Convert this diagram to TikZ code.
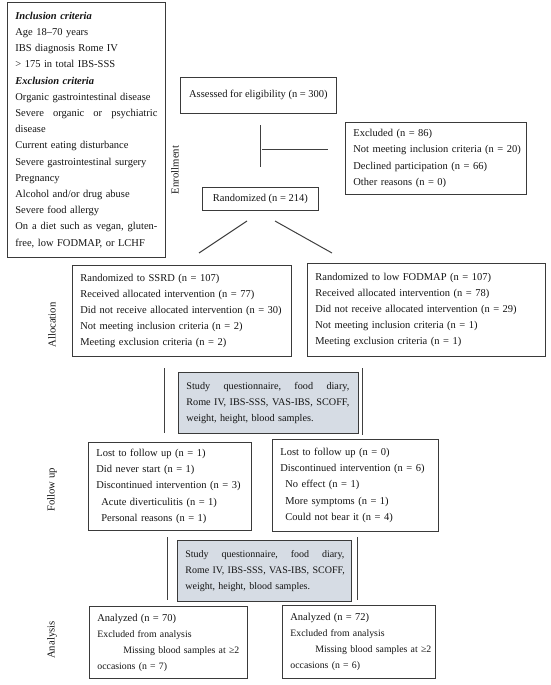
\documentclass[tikz,border=0pt]{standalone}
\usepackage{fontspec}
\setmainfont{Liberation Serif}
\definecolor{txt}{HTML}{141414}
\definecolor{boxc}{HTML}{3A3A3A}
\definecolor{linec}{HTML}{404040}
\definecolor{grayfill}{HTML}{D6DCE4}
\newcommand{\jline}[2]{\leavevmode\hbox to #1{#2}}
\newcommand{\oneline}[1]{\mbox{#1}}
\begin{document}
\begin{tikzpicture}[x=1pt,y=-1pt,
  box/.style={draw=boxc, line width=0.8pt, anchor=north west, inner xsep=8pt, inner ysep=0pt,
              align=left, font=\fontsize{10.5}{16.2}\selectfont, text=txt},
  cbox/.style={box, align=center},
  gbox/.style={box, fill=grayfill},
  abox/.style={box, font=\fontsize{9.8}{16}\selectfont},
  conn/.style={draw=linec, line width=1pt},
  side/.style={rotate=90, font=\fontsize{10.7}{13}\selectfont, text=txt}]
\useasboundingbox (0,0) rectangle (550,685);

% criteria
\node[box, minimum width=156pt, minimum height=255pt, text width=142pt] (crit) at (7,2) {%
\textbf{\textit{Inclusion criteria}}\\
Age 18–70 years\\
IBS diagnosis Rome IV\\
> 175 in total IBS-SSS\\
\textbf{\textit{Exclusion criteria}}\\
\oneline{Organic gastrointestinal disease}\\
\jline{142pt}{Severe \hfill organic \hfill or \hfill psychiatric}\\
disease\\
Current eating disturbance\\
\oneline{Severe gastrointestinal surgery}\\
Pregnancy\\
Alcohol and/or drug abuse\\
Severe food allergy\\
\jline{142pt}{On \hfill a \hfill diet \hfill such \hfill as \hfill vegan, \hfill gluten-}\\
free, low FODMAP, or LCHF};

% enrollment
\node[cbox, minimum width=156pt, minimum height=36pt] (assess) at (180,77) {Assessed for eligibility (n = 300)};
\node[box, minimum width=181pt, minimum height=72pt, text width=165pt] (excl) at (345,122) {%
Excluded (n = 86)\\
\oneline{Not meeting inclusion criteria (n = 20)}\\
Declined participation (n = 66)\\
Other reasons (n = 0)};
\node[cbox, minimum width=116pt, minimum height=23pt] (rand) at (202,187) {Randomized (n = 214)};

% allocation
\node[box, minimum width=219pt, minimum height=91pt, text width=203pt] (ssrd) at (72,265) {%
Randomized to SSRD (n = 107)\\
Received allocated intervention (n = 77)\\
\oneline{Did not receive allocated intervention (n = 30)}\\
Not meeting inclusion criteria (n = 2)\\
Meeting exclusion criteria (n = 2)};
\node[box, minimum width=238pt, minimum height=93pt, text width=222pt] (fod) at (307,263) {%
Randomized to low FODMAP (n = 107)\\
Received allocated intervention (n = 78)\\
\oneline{Did not receive allocated intervention (n = 29)}\\
Not meeting inclusion criteria (n = 1)\\
Meeting exclusion criteria (n = 1)};

\node[gbox, minimum width=180pt, minimum height=61pt, text width=164pt,
      font=\fontsize{10.2}{16.2}\selectfont] (base1) at (178,372) {%
\jline{163pt}{Study \hfill questionnaire, \hfill food \hfill diary,}\\
\jline{163pt}{Rome IV, \hfill IBS-SSS, \hfill VAS-IBS, \hfill SCOFF,}\\
weight, height, blood samples.};

% follow up
\node[box, minimum width=163pt, minimum height=88pt, text width=147pt] (fl) at (88,442) {%
Lost to follow up (n = 1)\\
Did never start (n = 1)\\
\oneline{Discontinued intervention (n = 3)}\\
\hspace*{5pt}Acute diverticulitis (n = 1)\\
\hspace*{5pt}Personal reasons (n = 1)};
\node[box, minimum width=166pt, minimum height=92pt, text width=150pt] (fr) at (272,439) {%
Lost to follow up (n = 0)\\
\oneline{Discontinued intervention (n = 6)}\\
\hspace*{5pt}No effect (n = 1)\\
\hspace*{5pt}More symptoms (n = 1)\\
\hspace*{5pt}Could not bear it (n = 4)};

\node[gbox, minimum width=174pt, minimum height=61pt, text width=158pt,
      font=\fontsize{10}{16.2}\selectfont] (base2) at (177,540) {%
\jline{159pt}{Study \hfill questionnaire, \hfill food \hfill diary,}\\
\jline{159pt}{Rome IV, \hfill IBS-SSS, \hfill VAS-IBS, \hfill SCOFF,}\\
weight, height, blood samples.};

% analysis
\node[abox, minimum width=158pt, minimum height=72pt, text width=142pt] (al) at (89,606) {%
{\fontsize{10.5}{16}\selectfont Analyzed (n = 70)}\\
Excluded from analysis\\
\oneline{\hspace*{26pt}Missing blood samples at ≥2}\\
occasions (n = 7)};
\node[abox, minimum width=153pt, minimum height=73pt, text width=137pt] (ar) at (282,605) {%
{\fontsize{10.5}{16}\selectfont Analyzed (n = 72)}\\
Excluded from analysis\\
\oneline{\hspace*{25pt}Missing blood samples at ≥2}\\
occasions (n = 6)};

% side labels
\node[side] (lenr) at (175,170) {Enrollment};
\node[side] (lall) at (52,325) {Allocation};
\node[side] (lfol) at (52,490) {Follow up};
\node[side] (lana) at (52,640) {Analysis};

% connectors
\coordinate (e1) at (260,125); \coordinate (e2) at (260,167);
\coordinate (h1) at (262,149); \coordinate (h2) at (328,149);
\coordinate (d1) at (247,221); \coordinate (d2) at (199,253);
\coordinate (d3) at (275,221); \coordinate (d4) at (332,253);
\coordinate (p1) at (164,368); \coordinate (p2) at (164,433);
\coordinate (p3) at (362,368); \coordinate (p4) at (362,435);
\coordinate (q1) at (167,537); \coordinate (q2) at (167,600);
\coordinate (q3) at (357,537); \coordinate (q4) at (357,600);
\draw[conn] (e1) -- (e2);
\draw[conn] (h1) -- (h2);
\draw[conn] (d1) -- (d2);
\draw[conn] (d3) -- (d4);
\draw[conn] (p1) -- (p2);
\draw[conn] (p3) -- (p4);
\draw[conn] (q1) -- (q2);
\draw[conn] (q3) -- (q4);
\end{tikzpicture}
\end{document}
